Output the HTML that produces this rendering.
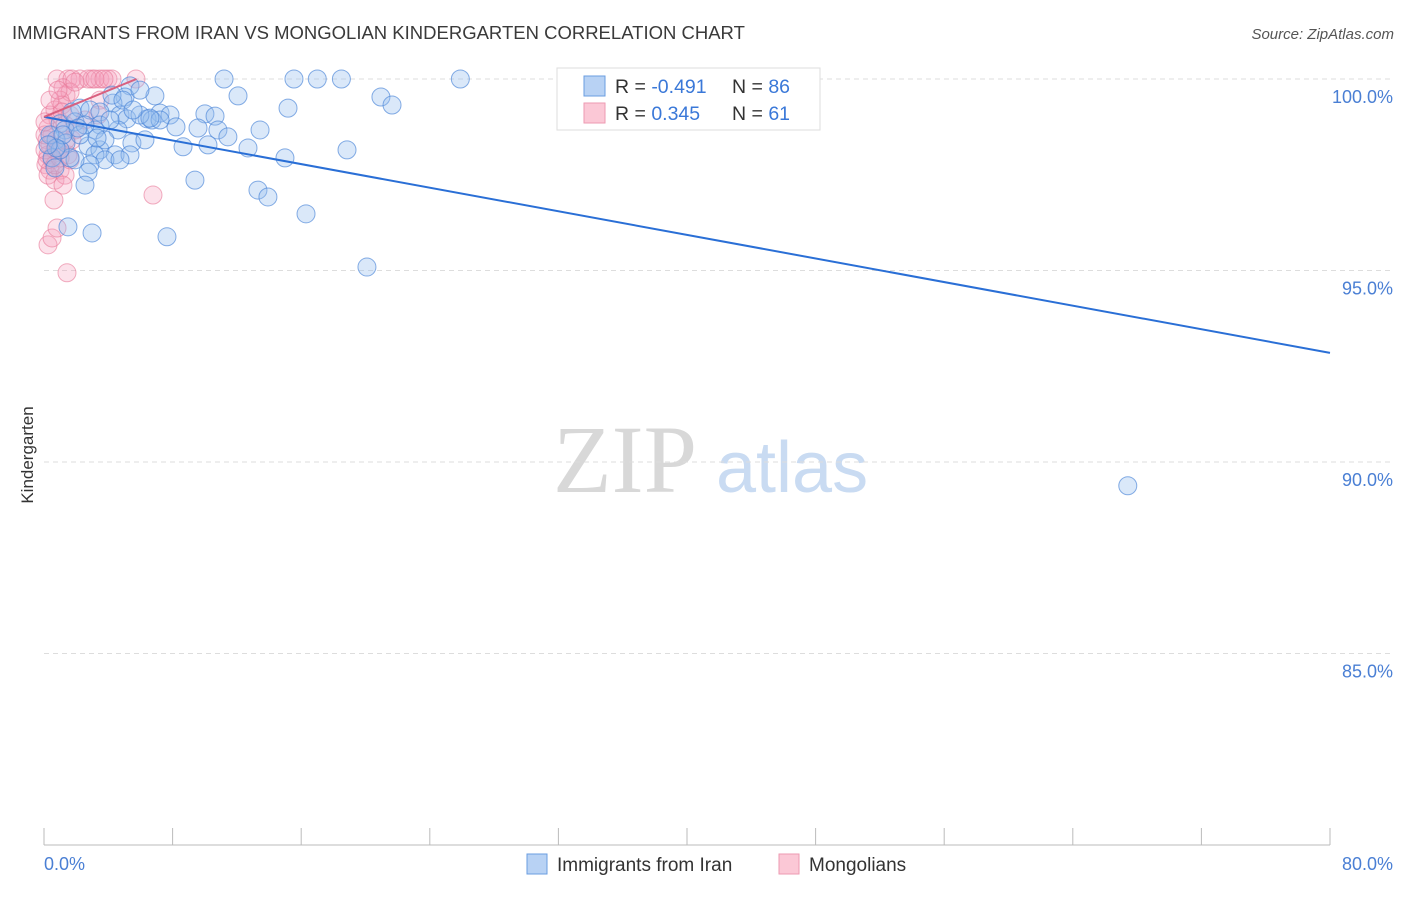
<!DOCTYPE html>
<html><head><meta charset="utf-8"><style>
body{margin:0;background:#fff;font-family:"Liberation Sans",sans-serif;}
svg text{font-family:"Liberation Sans",sans-serif;}
svg text.serif{font-family:"Liberation Serif",serif;}
</style></head><body>
<svg id="chart" width="1406" height="892" xmlns="http://www.w3.org/2000/svg">
<text x="12" y="39" font-size="18.5" fill="#3a3a3a">IMMIGRANTS FROM IRAN VS MONGOLIAN KINDERGARTEN CORRELATION CHART</text>
<text x="1394" y="39" font-size="15" fill="#555" text-anchor="end" font-style="italic">Source: ZipAtlas.com</text>
<g>
<text class="serif" x="553" y="492" font-size="96" fill="#d8d8d8" style="font-family:'Liberation Serif',serif">ZIP</text>
<text x="716" y="492" font-size="72" fill="#c9dbf2">atlas</text>
</g>
<g id="grid"></g>
<g id="yticks"></g>
<line x1="44" y1="845" x2="1330" y2="845" stroke="#bbb"/>
<g id="xticks"></g>
<text x="44" y="870" font-size="18" fill="#4a7fd4">0.0%</text>
<text x="1393" y="870" font-size="18" fill="#4a7fd4" text-anchor="end">80.0%</text>
<text transform="translate(33,455) rotate(-90)" font-size="17" fill="#333" text-anchor="middle">Kindergarten</text>
<g id="pink"></g>
<g id="blue"></g>
<g id="lines"></g>
<g>
<rect x="557" y="68" width="263" height="62" fill="#fff" stroke="#ddd"/>
<rect x="584" y="76" width="21" height="20" fill="#b8d2f4" stroke="#6a9de0"/>
<rect x="584" y="103" width="21" height="20" fill="#fbc8d6" stroke="#ee9ab2"/>
<text x="615" y="93" font-size="19.5" fill="#333">R = <tspan fill="#3a78d8">-0.491</tspan></text>
<text x="732" y="93" font-size="19.5" fill="#333">N = <tspan fill="#3a78d8">86</tspan></text>
<text x="615" y="120" font-size="19.5" fill="#333">R = <tspan fill="#3a78d8"> 0.345</tspan></text>
<text x="732" y="120" font-size="19.5" fill="#333">N = <tspan fill="#3a78d8"> 61</tspan></text>
</g>
<g>
<rect x="527" y="854" width="20" height="20" fill="#b8d2f4" stroke="#6a9de0"/>
<text x="557" y="871" font-size="19" fill="#333">Immigrants from Iran</text>
<rect x="779" y="854" width="20" height="20" fill="#fbc8d6" stroke="#ee9ab2"/>
<text x="809" y="871" font-size="19" fill="#333">Mongolians</text>
</g>
</svg>
<script>
const yTicks=[100,95,90,85];
const xTickVals=[0,8,16,24,32,40,48,56,64,72,80];
const blueX=[11.2,15.55,17.0,18.5,25.9,5.35,6.9,12.07,20.96,21.65,15.18,5.04,4.29,4.23,2.24,2.86,3.48,7.22,7.84,10.01,10.64,6.41,4.73,5.16,1.0,1.93,3.48,8.21,9.58,10.82,13.44,1.31,3.17,4.6,11.44,6.72,5.47,8.65,10.2,12.69,18.85,2.74,3.48,0.75,1.37,4.42,5.35,3.17,14.99,3.79,2.86,1.93,2.74,2.55,9.39,13.31,13.93,16.3,1.49,2.99,7.65,20.09,67.42,0.37,0.5,0.68,1.62,1.0,5.97,7.22,2.24,4.11,2.55,6.59,1.74,3.79,4.91,5.97,1.18,2.11,3.3,0.75,0.25,4.73,5.54,6.28];
const blueY=[100,100,100,100,100,99.82,99.56,99.56,99.53,99.32,99.24,99.53,99.37,99.58,99.24,99.19,99.14,99.11,99.06,99.09,99.03,98.96,99.06,98.96,98.83,98.88,98.8,98.75,98.72,98.67,98.67,98.67,98.67,98.67,98.49,98.93,98.33,98.23,98.28,98.2,98.15,98.25,98.15,98.41,98.33,98.02,98.02,98.02,97.94,97.89,97.76,97.89,97.57,97.23,97.36,97.1,96.92,96.48,96.14,95.98,95.88,95.09,89.38,98.54,97.94,97.68,97.94,98.15,99.06,98.93,98.54,98.93,98.8,98.98,99.14,98.41,99.45,99.71,98.54,98.72,98.46,98.2,98.28,97.89,99.19,98.41];
const pinkX=[0.81,1.49,2.24,2.99,3.48,3.98,4.23,5.72,1.74,2.74,1.18,1.37,1.62,1.0,0.68,1.12,0.37,0.87,0.25,0.5,0.19,0.37,0.68,0.25,0.5,0.87,0.12,0.37,1.0,0.25,0.68,1.31,1.62,1.49,0.06,1.74,1.93,1.31,2.55,3.48,3.36,1.12,0.06,0.19,0.62,0.25,0.5,1.43,6.78,1.18,0.81,0.68,1.0,0.06,0.37,1.93,3.17,3.73,0.87,1.62,1.37];
const pinkY=[100,100,100,100,100,100,100,100,100,100,99.77,99.58,99.66,99.45,99.19,99.32,99.06,98.93,98.72,98.54,98.41,98.28,98.15,98.02,97.89,98.15,97.76,97.62,97.62,97.49,97.36,97.49,97.89,98.02,98.15,98.41,98.67,98.8,98.93,99.45,99.06,99.14,98.54,97.89,96.84,95.67,95.85,94.94,96.97,97.23,96.11,97.76,97.94,98.88,99.45,99.92,100,100,99.71,99.06,98.41];
const blueTrendX=[0,80], blueTrendY=[99.01,92.85];
const pinkTrendX=[0,5.75], pinkTrendY=[99.01,100];
const sx=v=>44+v/80*1286;
const sy=v=>845-(v-80)/20*766;
const NS="http://www.w3.org/2000/svg";
function mk(tag,attrs,parent){const e=document.createElementNS(NS,tag);for(const k in attrs)e.setAttribute(k,attrs[k]);parent.appendChild(e);return e;}
const grid=document.getElementById('grid'),yt=document.getElementById('yticks'),xt=document.getElementById('xticks');
yTicks.forEach(v=>{
 const l=mk('line',{x1:44,x2:1393,y1:sy(v),y2:sy(v),stroke:'#ddd','stroke-dasharray':'5,4'},grid);
 
 
 const t=mk('text',{x:1393,y:sy(v)+24,'font-size':18,fill:'#4a7fd4','text-anchor':'end'},yt);
 t.textContent=v.toFixed(1)+'%';
 
 
});
xTickVals.forEach(v=>{
 const l=mk('line',{x1:sx(v),x2:sx(v),y1:828,y2:845,stroke:'#bbb'},xt);
 
 
});
const pg=document.getElementById('pink'),bg=document.getElementById('blue');
pinkX.forEach((x,i)=>{
 const c=mk('circle',{cx:sx(x),cy:sy(pinkY[i]),r:9,fill:'rgba(244,160,188,0.3)',stroke:'rgba(232,120,152,0.6)','stroke-width':1},pg);
 
 
});
blueX.forEach((x,i)=>{
 const c=mk('circle',{cx:sx(x),cy:sy(blueY[i]),r:9,fill:'rgba(150,190,238,0.35)',stroke:'rgba(70,130,215,0.65)','stroke-width':1},bg);
 
 
});
const lg=document.getElementById('lines');
const bl=mk('line',{x1:sx(blueTrendX[0]),y1:sy(blueTrendY[0]),x2:sx(blueTrendX[1]),y2:sy(blueTrendY[1]),stroke:'#2a6fd6','stroke-width':2},lg);


const pl=mk('line',{x1:sx(pinkTrendX[0]),y1:sy(pinkTrendY[0]),x2:sx(pinkTrendX[1]),y2:sy(pinkTrendY[1]),stroke:'#d9607f','stroke-width':2},lg);


</script>
</body></html>
